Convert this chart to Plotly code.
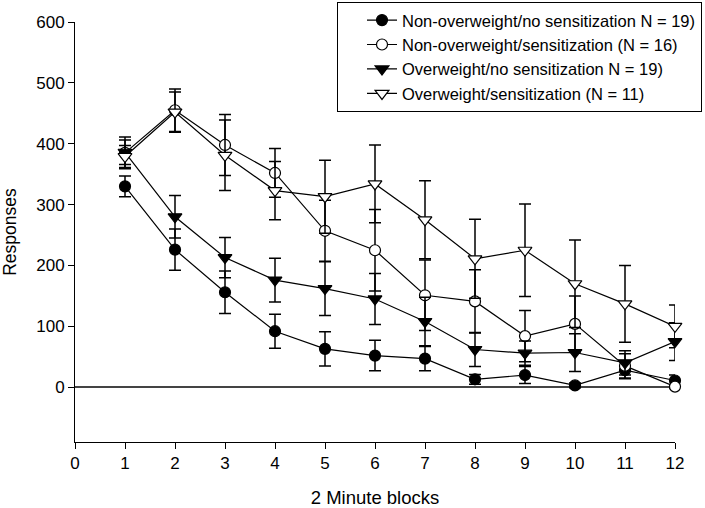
import plotly.graph_objects as go

blocks = [1, 2, 3, 4, 5, 6, 7, 8, 9, 10, 11, 12]

nonow_nosens = [330, 226, 156, 92, 63, 52, 47, 13, 20, 3, 28, 11]
nonow_nosens_err = [17, 34, 35, 28, 28, 25, 20, 8, 14, 4, 14, 9]

nonow_sens = [385, 455, 398, 352, 257, 225, 151, 141, 84, 104, 35, 1]
nonow_sens_err = [26, 35, 50, 40, 50, 67, 58, 52, 42, 46, 20, 3]

ow_nosens = [386, 280, 213, 176, 162, 145, 108, 62, 56, 57, 40, 75]
ow_nosens_err = [20, 35, 33, 36, 44, 42, 40, 28, 20, 31, 20, 31]

ow_sens = [379, 452, 381, 323, 313, 334, 275, 211, 225, 170, 137, 100]
ow_sens_err = [18, 33, 58, 48, 60, 64, 64, 65, 76, 72, 63, 35]

names = [
    "Non-overweight/no sensitization N = 19)",
    "Non-overweight/sensitization (N = 16)",
    "Overweight/no sensitization N = 19)",
    "Overweight/sensitization (N = 11)",
]
series = [nonow_nosens, nonow_sens, ow_nosens, ow_sens]
errors = [nonow_nosens_err, nonow_sens_err, ow_nosens_err, ow_sens_err]
symbols = ["circle", "circle", "triangle-down", "triangle-down"]
fills = ["black", "white", "black", "white"]
sizes = [11, 11, 12, 12]

x_ticks = [0, 1, 2, 3, 4, 5, 6, 7, 8, 9, 10, 11, 12]
y_ticks = [0, 100, 200, 300, 400, 500, 600]

fig = go.Figure()
for name, ys, err, sym, fc, sz in zip(names, series, errors, symbols, fills, sizes):
    fig.add_trace(go.Scatter(
        x=blocks, y=ys, name=name, mode="lines+markers",
        line=dict(color="black", width=1.2),
        marker=dict(symbol=sym, size=sz, color=fc, line=dict(color="black", width=1.2)),
        error_y=dict(type="data", array=err, visible=True, color="black", thickness=1.5, width=6),
        cliponaxis=False,
    ))

font = "Liberation Sans, Arial, sans-serif"
fig.update_layout(
    width=705, height=508,
    margin=dict(l=75, r=30, t=22, b=66, autoexpand=False),
    paper_bgcolor="white", plot_bgcolor="white",
    font=dict(family=font, color="black", size=17),
    showlegend=True,
    legend=dict(
        x=1.045, xanchor="right", y=1.048, yanchor="top",
        bgcolor="white", bordercolor="black", borderwidth=1,
        font=dict(family=font, size=16.5, color="black"),
        tracegroupgap=0, indentation=24,
    ),
    xaxis=dict(
        range=[0, 12], tickvals=x_ticks, ticks="outside", ticklen=6, tickwidth=1,
        tickcolor="black", showline=True, linecolor="black", linewidth=1,
        showgrid=False, zeroline=False,
        title=dict(text="2 Minute blocks", font=dict(size=18.5), standoff=22),
        tickfont=dict(size=17),
    ),
    yaxis=dict(
        range=[-90, 600], tickvals=y_ticks, ticks="outside", ticklen=6, tickwidth=1,
        tickcolor="black", showline=True, linecolor="black", linewidth=1,
        showgrid=False, zeroline=True, zerolinecolor="#444444", zerolinewidth=2,
        title=dict(text="Responses", font=dict(size=17.5), standoff=30),
        tickfont=dict(size=17),
    ),
)

fig.write_html(
    "out.html",
    config={"displayModeBar": False},
    post_script="document.body.style.margin='0px';",
)
